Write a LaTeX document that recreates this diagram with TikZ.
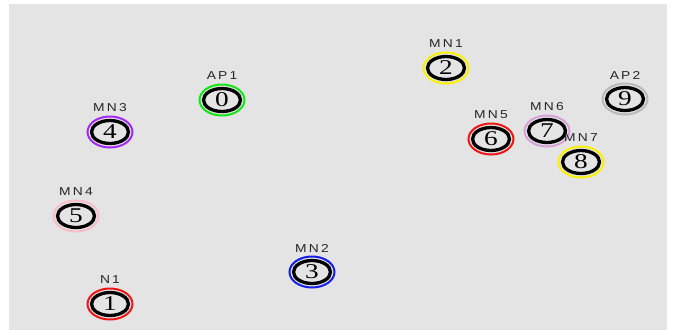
\documentclass[tikz,border=0pt]{standalone}
\usepackage{fontspec}
\setmainfont{Liberation Serif}
\newfontfamily\labfont[LetterSpace=16]{Liberation Sans}
\usetikzlibrary{shapes.geometric}
\definecolor{panel}{RGB}{228,228,228}
\definecolor{cgreen}{RGB}{20,230,20}
\definecolor{cred}{RGB}{240,20,20}
\definecolor{cyellow}{RGB}{250,240,0}
\definecolor{cblue}{RGB}{20,30,230}
\definecolor{cpurple}{RGB}{165,40,245}
\definecolor{cpink}{RGB}{250,190,200}
\definecolor{cplum}{RGB}{215,160,215}
\definecolor{cgray}{RGB}{185,185,185}
\tikzset{
  halo/.style={ellipse, inner sep=0pt, minimum width=45pt, minimum height=31pt, line width=2pt},
  core/.style={ellipse, inner sep=0pt, minimum width=37pt, minimum height=23pt, line width=3.3pt, draw=black,
    font=\fontsize{21}{21}\selectfont},
  tag/.style={inner sep=0pt, text=black!85, font=\labfont\fontsize{11.5}{11.5}\selectfont}
}
\begin{document}
\begin{tikzpicture}[x=1pt,y=-1pt]
\useasboundingbox (0,0) rectangle (673,330);
\fill[white] (0,0) rectangle (673,330);
\fill[panel] (9,4) rectangle (667,330);
\foreach \i/\x/\y/\c/\t in {
  0/222/100/cgreen/AP1,
  1/110/304/cred/N1,
  2/446/68/cyellow/MN1,
  3/312/272/cblue/MN2,
  4/110/132/cpurple/MN3,
  5/76/216/cpink/MN4,
  6/491/139/cred/MN5,
  7/547/131/cplum/MN6,
  8/581/162/cyellow/MN7,
  9/625/99/cgray/AP2}{
  \node[halo, draw=\c] (n\i) at (\x,\y) {};
  \node[core] (d\i) at (n\i.center) {\scalebox{1.3}[1]{\i}};
  \node[tag] (t\i) at ([yshift=24pt]n\i.center) {\scalebox{1.2}[1]{\t}};
}
\end{tikzpicture}
\end{document}
